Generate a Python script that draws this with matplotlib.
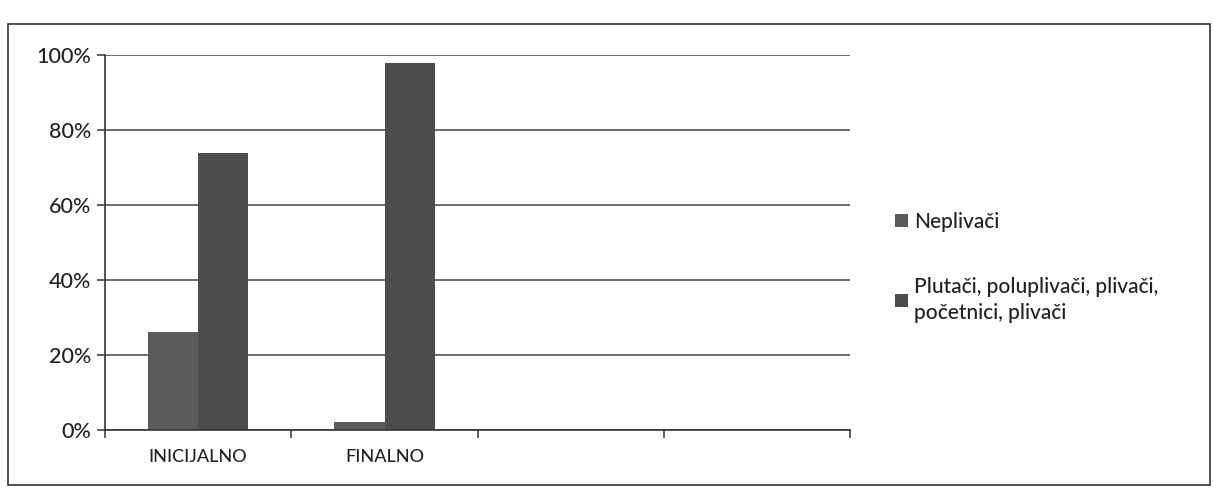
import matplotlib.pyplot as plt
import numpy as np
from matplotlib.patches import Rectangle

categories = ['INICIJALNO', 'FINALNO', '', '']
neplivaci = [26, 2, 0, 0]
plivaci = [74, 98, 0, 0]
series_labels = ['Neplivači', 'Plutači, poluplivači, plivači,\npočetnici, plivači']
y_ticks = [0, 20, 40, 60, 80, 100]

plt.rcParams['font.family'] = ['Lato', 'DejaVu Sans']

fig = plt.figure(figsize=(12.14, 4.88), dpi=100)
# okvir oko grafa
fig.patches.append(Rectangle((0.007, 0.006), 0.99, 0.944, transform=fig.transFigure,
                             fill=False, edgecolor='#333333', linewidth=1.2))
ax = fig.add_axes([0.0865, 0.119, 0.614, 0.768])

x = np.arange(len(categories))
w = 0.27
b1 = ax.bar(x[:2] - w / 2, neplivaci[:2], w, color='#5b5b5b', zorder=2, label=series_labels[0])
b2 = ax.bar(x[:2] + w / 2, plivaci[:2], w, color='#4d4d4d', zorder=2, label=series_labels[1])

ax.set_xlim(-0.5, len(categories) - 0.5)
ax.set_ylim(0, 100)
ax.set_yticks(y_ticks)
ax.set_yticklabels([f'{v}%' for v in y_ticks], fontsize=15.5, color='#222222', fontweight='medium')
ax.yaxis.grid(True, color='#444444', linewidth=1.1, zorder=0)
ax.set_xticks(x)
ax.set_xticklabels(categories, fontsize=13, color='#222222', fontweight='medium')
ax.tick_params(axis='x', length=0, pad=14)
ax.set_xticks(np.arange(-0.5, len(categories)), minor=True)
ax.tick_params(axis='x', which='minor', length=6, width=1.1, color='#333333', direction='out')
ax.tick_params(axis='y', length=6, width=1.1, color='#333333', pad=4)
for s in ['top', 'right']:
    ax.spines[s].set_visible(False)
ax.spines['left'].set_color('#333333')
ax.spines['bottom'].set_color('#333333')
ax.spines['left'].set_linewidth(1.2)
ax.spines['bottom'].set_linewidth(1.2)

leg = fig.legend(handles=[b1, b2], loc='upper left', bbox_to_anchor=(0.722, 0.605),
                 frameon=False, handlelength=0.6, handleheight=0.6,
                 handletextpad=0.3, labelspacing=2.2,
                 prop={'size': 15, 'weight': 'medium'})
for t in leg.get_texts():
    t.set_linespacing(1.35)
    t.set_color('#222222')

plt.savefig('out.png', dpi=100)
